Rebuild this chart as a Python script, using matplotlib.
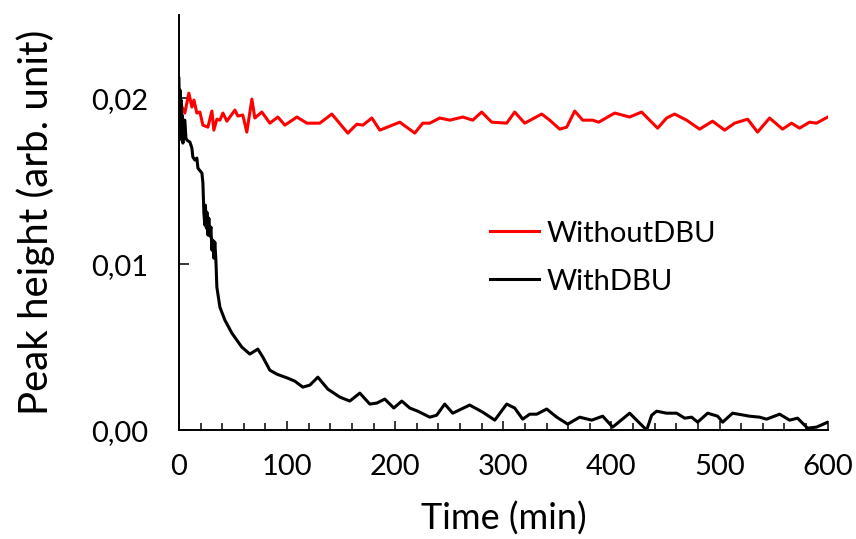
import matplotlib
matplotlib.use("Agg")
import matplotlib.pyplot as plt
from matplotlib.ticker import MultipleLocator

# Peak height vs time
t_without = [0, 5.5, 9.2, 12.0, 13.9, 16.6, 19.4, 22.2, 26.8, 30.5, 32.3, 35.1, 37.9,
             40.7, 44.4, 51.8, 54.5, 59.1, 62.8, 67.5, 70.2, 76.7, 84.1, 91.5, 98.0,
             109.1, 118.3, 130.3, 141.4, 156.2, 164.5, 170.1, 178.4, 185.8, 204.3,
             218.1, 225.5, 232.0, 241.2, 250.5, 262.5, 271.7, 280.0, 289.3, 303.1,
             310.5, 319.8, 335.5, 342.9, 352.1, 358.6, 366.0, 373.4, 382.6, 388.2,
             403.0, 416.8, 427.9, 435.3, 442.7, 451.0, 458.4, 469.5, 481.5, 493.5,
             504.6, 513.9, 525.9, 535.1, 546.2, 558.2, 566.5, 573.9, 583.2, 589.6, 600]
v_without = [0.01988, 0.01910, 0.02030, 0.01946, 0.01988, 0.01910, 0.01916, 0.01837,
             0.01825, 0.01922, 0.01807, 0.01873, 0.01867, 0.01910, 0.01861, 0.01928,
             0.01892, 0.01898, 0.01795, 0.01994, 0.01880, 0.01916, 0.01849, 0.01886,
             0.01837, 0.01886, 0.01849, 0.01849, 0.01904, 0.01789, 0.01843, 0.01837,
             0.01880, 0.01807, 0.01855, 0.01789, 0.01849, 0.01849, 0.01880, 0.01867,
             0.01886, 0.01867, 0.01916, 0.01855, 0.01849, 0.01916, 0.01849, 0.01904,
             0.01867, 0.01813, 0.01825, 0.01922, 0.01867, 0.01867, 0.01855, 0.01910,
             0.01886, 0.01916, 0.01867, 0.01819, 0.01880, 0.01904, 0.01867, 0.01813,
             0.01861, 0.01807, 0.01849, 0.01873, 0.01795, 0.01880, 0.01813, 0.01849,
             0.01819, 0.01855, 0.01849, 0.01886]

t_with = [0, 0.5, 1.0, 1.5, 2.0, 2.6, 3.0, 3.7, 4.6, 5.5, 6.5, 7.4, 10.2, 12.0, 12.9,
          14.8, 16.6, 17.6, 21.3, 22.2, 23.1, 24.0, 24.5, 25.4, 25.9, 26.8, 27.7,
          28.6, 29.6, 30.5, 31.4, 32.3, 33.2, 34.2, 35.1, 37.9, 42.5, 49.0, 58.2,
          65.6, 73.0, 77.6, 84.1, 90.6, 100.7, 107.2, 114.6, 121.1, 128.5, 137.7,
          148.8, 158.0, 167.3, 176.5, 183.0, 190.4, 198.7, 206.1, 213.5, 220.9,
          232.0, 238.4, 245.8, 253.2, 268.9, 281.0, 292.1, 303.1, 310.5, 317.9,
          324.4, 330.9, 340.1, 349.4, 359.5, 370.6, 381.7, 391.9, 401.1, 416.8,
          427.9, 432.5, 437.2, 441.8, 451.0, 460.3, 467.7, 474.1, 479.7, 488.9,
          498.2, 502.8, 512.0, 527.7, 537.0, 543.4, 555.5, 564.7, 572.1, 581.3,
          589.6, 600]
v_with = [0.02120, 0.01928, 0.02048, 0.01837, 0.01988, 0.01747, 0.01898, 0.01729,
          0.01867, 0.01867, 0.01759, 0.01747, 0.01735, 0.01699, 0.01645, 0.01627,
          0.01639, 0.01578, 0.01548, 0.01488, 0.01307, 0.01235, 0.01355, 0.01217,
          0.01313, 0.01175, 0.01277, 0.01169, 0.01223, 0.01084, 0.01145, 0.01036,
          0.01133, 0.01024, 0.00861, 0.00741, 0.00663, 0.00584, 0.00500, 0.00458,
          0.00488, 0.00440, 0.00361, 0.00337, 0.00313, 0.00295, 0.00259, 0.00271,
          0.00319, 0.00247, 0.00199, 0.00175, 0.00223, 0.00157, 0.00163, 0.00187,
          0.00133, 0.00175, 0.00133, 0.00114, 0.00078, 0.00090, 0.00157, 0.00102,
          0.00151, 0.00108, 0.00060, 0.00157, 0.00133, 0.00066, 0.00096, 0.00096,
          0.00127, 0.00078, 0.00036, 0.00078, 0.00060, 0.00084, 0.00018, 0.00102,
          0.00030, 0.0, 0.00090, 0.00114, 0.00102, 0.00102, 0.00072, 0.00078,
          0.00048, 0.00102, 0.00084, 0.00048, 0.00102, 0.00084, 0.00078, 0.00066,
          0.00096, 0.00060, 0.00072, 0.00012, 0.00018, 0.00048]

y_ticks = [0.0, 0.01, 0.02]
y_tick_labels = ["0,00", "0,01", "0,02"]
x_ticks = [0, 100, 200, 300, 400, 500, 600]

plt.rcParams['font.family'] = ['Lato', 'DejaVu Sans']

fig = plt.figure(figsize=(8.56, 5.39), dpi=100)
ax = fig.add_axes([0.209, 0.202, 0.758, 0.770])

ax.plot(t_without, v_without, color='#ff0000', lw=2.2, label='WithoutDBU',
        solid_joinstyle='round')
ax.plot(t_with, v_with, color='black', lw=2.2, label='WithDBU',
        solid_joinstyle='round')

ax.set_xlim(0, 600)
ax.set_ylim(0, 0.025)
ax.set_xticks(x_ticks)
ax.xaxis.set_minor_locator(MultipleLocator(20))
ax.set_yticks(y_ticks)
ax.set_yticklabels(y_tick_labels)

for side in ['top', 'right']:
    ax.spines[side].set_visible(False)
for side in ['left', 'bottom']:
    ax.spines[side].set_linewidth(1.4)

ax.tick_params(axis='x', which='major', direction='in', length=6.5, width=1.1,
               labelsize=21, pad=17)
ax.tick_params(axis='x', which='minor', direction='in', length=5, width=1.1)
ax.tick_params(axis='y', which='major', direction='in', length=7, width=1.1,
               labelsize=21, pad=22)

ax.set_xlabel('Time (min)', fontsize=26, labelpad=16)
ax.set_ylabel('Peak height (arb. unit)', fontsize=29, labelpad=26)

ax.legend(loc='center left', bbox_to_anchor=(0.572, 0.522),
          bbox_transform=fig.transFigure, frameon=False, fontsize=21,
          handlelength=1.7, handletextpad=0.25, labelspacing=0.75,
          borderpad=0, borderaxespad=0)

fig.savefig('out.png', dpi=100)
